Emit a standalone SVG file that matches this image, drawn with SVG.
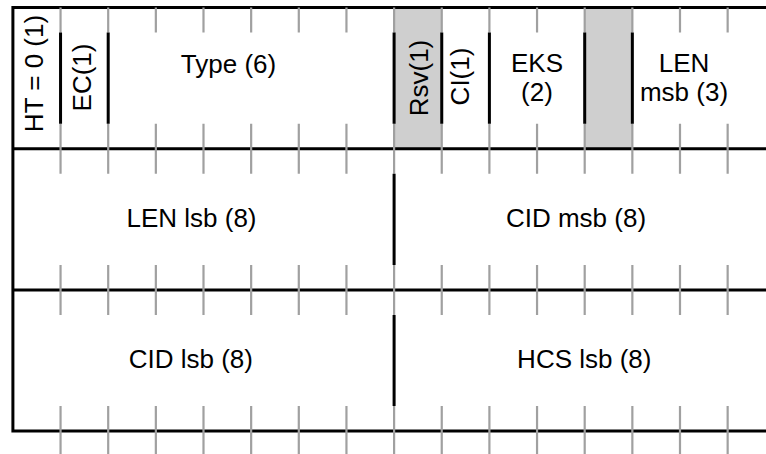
<svg xmlns="http://www.w3.org/2000/svg" xmlns:xlink="http://www.w3.org/1999/xlink" width="766" height="454" viewBox="0 0 766 454">
<style>
.frame{fill:none;stroke:#000;stroke-width:3;stroke-linejoin:miter}
.div{stroke:#000;stroke-width:3;fill:none}
.tick{stroke:#a0a0a0;stroke-width:2.2;fill:none}
.res{fill:#cfcfcf;stroke:none}
text{font-family:"Liberation Sans",Arial,sans-serif;font-size:26px;fill:#000;text-anchor:middle}
</style>
<defs>
<path id="tk" class="tick" d="M0 7.5V32.5M0 123.7V173.7M0 264.9V314.9M0 406.1V456"/>
</defs>
<rect width="766" height="454" fill="#fff"/>
<g id="fills">
<rect class="res" x="394.1" y="7.5" width="47.65" height="141.2"/>
<rect class="res" x="584.7" y="7.5" width="47.65" height="141.2"/>
</g>
<g id="frame">
<path class="frame" d="M766 7.5H12.9V431.1H766M12.9 148.7H766M12.9 289.9H766"/>
</g>
<g id="ticks">
<use xlink:href="#tk" x="60.55"/>
<use xlink:href="#tk" x="108.2"/>
<use xlink:href="#tk" x="155.85"/>
<use xlink:href="#tk" x="203.5"/>
<use xlink:href="#tk" x="251.15"/>
<use xlink:href="#tk" x="298.8"/>
<use xlink:href="#tk" x="346.45"/>
<use xlink:href="#tk" x="394.1"/>
<use xlink:href="#tk" x="441.75"/>
<use xlink:href="#tk" x="489.4"/>
<use xlink:href="#tk" x="537.05"/>
<use xlink:href="#tk" x="584.7"/>
<use xlink:href="#tk" x="632.35"/>
<use xlink:href="#tk" x="680"/>
<use xlink:href="#tk" x="727.65"/>
</g>
<g id="connectors">
<path class="div" d="M60.55 32.5V123.7M108.2 32.5V123.7M394.1 32.5V123.7M441.75 32.5V123.7M489.4 32.5V123.7M584.7 32.5V123.7M632.35 32.5V123.7M394.1 173.7V264.9M394.1 314.9V406.1"/>
</g>
<g id="ht"><text transform="translate(43.3,73.5) rotate(-90)">HT = 0 (1)</text></g>
<g id="ec"><text transform="translate(91,77.5) rotate(-90)">EC(1)</text></g>
<g id="type"><text x="228.5" y="73">Type (6)</text></g>
<g id="rsv"><text transform="translate(428,78) rotate(-90)">Rsv(1)</text></g>
<g id="ci"><text transform="translate(469,76.5) rotate(-90)">CI(1)</text></g>
<g id="eks"><text x="537" y="72">EKS</text><text x="537" y="101">(2)</text></g>
<g id="reserved"></g>
<g id="lenmsb"><text x="684" y="72">LEN</text><text x="684" y="101">msb (3)</text></g>
<g id="lenlsb"><text x="191.5" y="227">LEN lsb (8)</text></g>
<g id="cidmsb"><text x="576" y="227">CID msb (8)</text></g>
<g id="cidlsb"><text x="190.8" y="368">CID lsb (8)</text></g>
<g id="hcslsb"><text x="584.3" y="368">HCS lsb (8)</text></g>
</svg>
